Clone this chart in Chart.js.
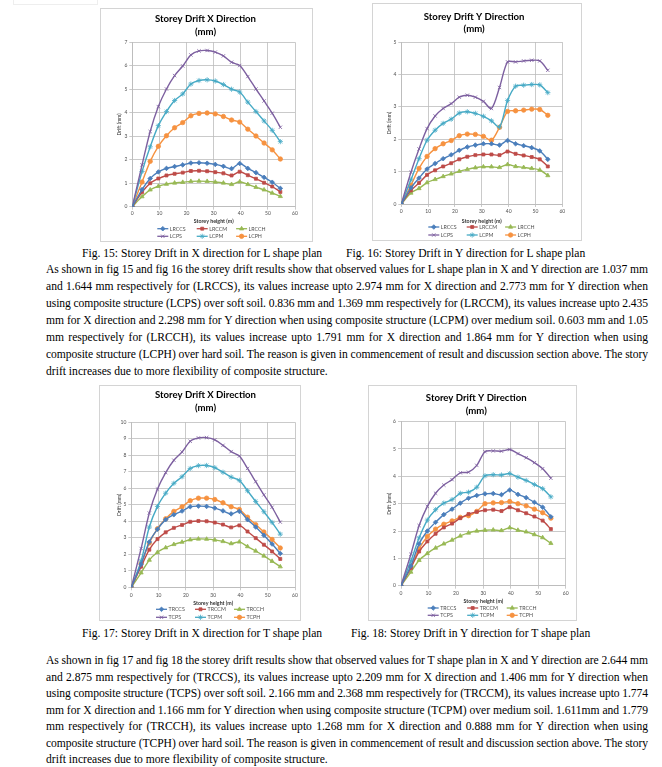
<!DOCTYPE html>
<html>
<head>
<meta charset="utf-8">
<script src="https://cdn.jsdelivr.net/npm/chart.js@4.4.0/dist/chart.umd.min.js"></script>
<style>
	body { margin: 0; width: 662px; height: 767px; position: relative; overflow: hidden; background: #fff; color: #000;
		font-family: "Liberation Serif", "Times New Roman", serif; }
	.frame { position: absolute; border: 1px solid #d4d4d4; background: #fff; }
	.frame canvas { display: block; }
	.cap { position: absolute; font-size: 11.6px; line-height: 16px; white-space: nowrap; }
	.line { position: absolute; left: 46px; width: 602px; font-size: 11.6px; line-height: 16px; white-space: nowrap; }
	.scrap { position: absolute; left: 13px; top: -2px; width: 83px; height: 5px; border: 1px solid #eee; }
</style>
</head>
<body>
<div class="scrap"></div>

<div class="frame" style="left:100px;top:8px;"><canvas id="lxChart" width="211" height="232"></canvas></div>
<div class="frame" style="left:372px;top:3px;"><canvas id="lyChart" width="208" height="236"></canvas></div>
<div class="cap" style="left:82px;top:246px;">Fig. 15: Storey Drift in X direction for L shape plan</div>
<div class="cap" style="left:346px;top:246px;">Fig. 16: Storey Drift in Y direction for L shape plan</div>

<div id="para1"></div>

<div class="frame" style="left:99px;top:385px;"><canvas id="txChart" width="200" height="234"></canvas></div>
<div class="frame" style="left:368px;top:385px;"><canvas id="tyChart" width="207" height="234"></canvas></div>
<div class="cap" style="left:82px;top:626px;">Fig. 17: Storey Drift in X direction for T shape plan</div>
<div class="cap" style="left:351px;top:626px;">Fig. 18: Storey Drift in Y direction for T shape plan</div>

<div id="para2"></div>

<script>
// storey heights (m) shared by all four charts
const storeyHeight = [0, 3.6, 6.6, 9.6, 12.6, 15.6, 18.6, 21.6, 24.6, 27.6, 30.6, 33.6, 36.6, 39.6, 42.6, 45.6, 48.6, 51.6, 54.6];

// Fig 15 - L shape, X direction (mm)
const lxRCCS = [0, 0.73, 1.2, 1.48, 1.63, 1.71, 1.78, 1.86, 1.87, 1.85, 1.8, 1.72, 1.62, 1.84, 1.63, 1.45, 1.25, 1.04, 0.78];
const lxRCCM = [0, 0.62, 1.0, 1.2, 1.33, 1.4, 1.45, 1.52, 1.53, 1.51, 1.47, 1.42, 1.33, 1.49, 1.34, 1.19, 1.02, 0.86, 0.63];
const lxRCCH = [0, 0.43, 0.72, 0.87, 0.96, 1.01, 1.04, 1.08, 1.09, 1.08, 1.05, 1.01, 0.95, 1.06, 0.95, 0.83, 0.72, 0.58, 0.44];
const lxCPS = [0, 1.78, 3.2, 4.26, 5.01, 5.58, 5.99, 6.46, 6.63, 6.65, 6.58, 6.42, 6.15, 6.01, 5.54, 5.01, 4.5, 3.98, 3.38];
const lxCPM = [0, 1.5, 2.55, 3.45, 4.05, 4.52, 4.8, 5.22, 5.37, 5.4, 5.35, 5.2, 5.0, 4.88, 4.45, 4.05, 3.65, 3.25, 2.77];
const lxCPH = [0, 1.05, 1.93, 2.57, 3.02, 3.36, 3.58, 3.87, 3.97, 3.99, 3.95, 3.84, 3.69, 3.6, 3.3, 3.01, 2.71, 2.42, 2.03];

// Fig 16 - L shape, Y direction (mm)
const lyRCCS = [0, 0.5, 0.8, 1.08, 1.25, 1.4, 1.52, 1.66, 1.76, 1.82, 1.86, 1.86, 1.82, 1.96, 1.86, 1.8, 1.74, 1.64, 1.38];
const lyRCCM = [0, 0.42, 0.65, 0.9, 1.04, 1.16, 1.26, 1.38, 1.46, 1.51, 1.53, 1.53, 1.51, 1.62, 1.55, 1.5, 1.45, 1.38, 1.16];
const lyRCCH = [0, 0.34, 0.48, 0.66, 0.76, 0.85, 0.93, 1.01, 1.07, 1.12, 1.15, 1.15, 1.13, 1.22, 1.16, 1.13, 1.1, 1.05, 0.88];
const lyCPS = [0, 0.98, 1.7, 2.33, 2.72, 2.95, 3.1, 3.3, 3.36, 3.3, 3.17, 2.95, 3.6, 4.39, 4.39, 4.42, 4.44, 4.42, 4.13];
const lyCPM = [0, 0.75, 1.4, 1.97, 2.28, 2.49, 2.62, 2.81, 2.85, 2.8, 2.71, 2.57, 2.38, 3.2, 3.64, 3.67, 3.69, 3.68, 3.44];
const lyCPH = [0, 0.58, 1.1, 1.47, 1.71, 1.86, 1.96, 2.11, 2.16, 2.15, 2.09, 1.97, 2.37, 2.86, 2.88, 2.9, 2.93, 2.92, 2.74];

// Fig 17 - T shape, X direction (mm)
const txRCCS = [0, 1.4, 2.75, 3.52, 4.1, 4.4, 4.62, 4.88, 4.92, 4.9, 4.8, 4.63, 4.45, 4.6, 4.1, 3.65, 3.15, 2.62, 2.05];
const txRCCM = [0, 1.25, 2.28, 2.92, 3.33, 3.6, 3.78, 3.97, 4.02, 4.0, 3.92, 3.8, 3.63, 3.75, 3.38, 2.98, 2.58, 2.17, 1.72];
const txRCCH = [0, 0.88, 1.65, 2.12, 2.4, 2.6, 2.74, 2.88, 2.93, 2.92, 2.87, 2.78, 2.65, 2.75, 2.47, 2.2, 1.9, 1.58, 1.25];
const txCPS = [0, 2.35, 4.5, 5.95, 6.95, 7.7, 8.2, 8.85, 9.05, 9.07, 8.93, 8.6, 8.22, 7.95, 7.2, 6.4, 5.6, 4.85, 3.95];
const txCPM = [0, 1.6, 3.65, 4.9, 5.7, 6.3, 6.7, 7.2, 7.37, 7.38, 7.25, 6.97, 6.68, 6.48, 5.85, 5.2, 4.58, 3.93, 3.22];
const txCPH = [0, 1.45, 2.68, 3.55, 4.15, 4.6, 4.88, 5.25, 5.4, 5.4, 5.32, 5.12, 4.88, 4.72, 4.25, 3.8, 3.35, 2.9, 2.38];

// Fig 18 - T shape, Y direction (mm)
const tyRCCS = [0, 0.72, 1.53, 2.0, 2.32, 2.6, 2.8, 3.02, 3.2, 3.3, 3.36, 3.37, 3.33, 3.5, 3.34, 3.22, 3.05, 2.87, 2.52];
const tyRCCM = [0, 0.65, 1.25, 1.62, 1.9, 2.13, 2.27, 2.47, 2.62, 2.7, 2.76, 2.78, 2.73, 2.87, 2.76, 2.65, 2.53, 2.38, 2.07];
const tyRCCH = [0, 0.5, 0.93, 1.18, 1.38, 1.53, 1.67, 1.82, 1.93, 2.0, 2.03, 2.04, 2.02, 2.12, 2.03, 1.97, 1.87, 1.76, 1.55];
const tyCPS = [0, 1.15, 2.2, 2.9, 3.38, 3.68, 3.88, 4.13, 4.15, 4.4, 4.9, 4.93, 4.92, 4.98, 4.83, 4.68, 4.5, 4.28, 3.93];
const tyCPM = [0, 0.9, 1.75, 2.4, 2.78, 3.02, 3.15, 3.38, 3.42, 3.6, 4.02, 4.06, 4.05, 4.1, 3.97, 3.85, 3.7, 3.55, 3.25];
const tyCPH = [0, 0.7, 1.35, 1.8, 2.07, 2.25, 2.37, 2.5, 2.56, 2.72, 3.0, 3.03, 3.04, 3.08, 3.0, 2.92, 2.8, 2.67, 2.47];

const lLabels = ["LRCCS", "LRCCM", "LRCCH", "LCPS", "LCPM", "LCPH"];
const tLabels = ["TRCCS", "TRCCM", "TRCCH", "TCPS", "TCPM", "TCPH"];

const para1Lines = [
	"As shown in fig 15 and fig 16 the storey drift results show that observed values for L shape plan in X and Y direction are 1.037 mm",
	"and 1.644 mm respectively for (LRCCS), its values increase upto 2.974 mm for X direction and 2.773 mm for Y direction when",
	"using composite structure (LCPS) over soft soil. 0.836 mm and 1.369 mm respectively for (LRCCM), its values increase upto 2.435",
	"mm for X direction and 2.298 mm for Y direction when using composite structure (LCPM) over medium soil. 0.603 mm and 1.05",
	"mm respectively for (LRCCH), its values increase upto 1.791 mm for X direction and 1.864 mm for Y direction when using",
	"composite structure (LCPH) over hard soil. The reason is given in commencement of result and discussion section above. The story",
	"drift increases due to more flexibility of composite structure.",
];
const para2Lines = [
	"As shown in fig 17 and fig 18 the storey drift results show that observed values for T shape plan in X and Y direction are 2.644 mm",
	"and 2.875 mm respectively for (TRCCS), its values increase upto 2.209 mm for X direction and 1.406 mm for Y direction when",
	"using composite structure (TCPS) over soft soil. 2.166 mm and 2.368 mm respectively for (TRCCM), its values increase upto 1.774",
	"mm for X direction and 1.166 mm for Y direction when using composite structure (TCPM) over medium soil. 1.611mm and 1.779",
	"mm respectively for (TRCCH), its values increase upto 1.268 mm for X direction and 0.888 mm for Y direction when using",
	"composite structure (TCPH) over hard soil. The reason is given in commencement of result and discussion section above. The story",
	"drift increases due to more flexibility of composite structure.",
];

// ---- paragraphs: one justified row per line of the page
function writeParagraph(id, lines, firstCenter, step) {
	const holder = document.getElementById(id);
	lines.forEach((txt, i) => {
		const div = document.createElement("div");
		div.className = "line";
		div.style.top = (firstCenter + i * step - 8) + "px";
		const span = document.createElement("span");
		span.textContent = txt;
		div.appendChild(span);
		holder.appendChild(div);
		const w = span.getBoundingClientRect().width;
		if (w > 602) {
			// slightly too long: tighten the letters a little
			div.style.letterSpacing = ((602 - w) / txt.length) + "px";
		} else if (i < lines.length - 1) {
			const gaps = txt.split(" ").length - 1;
			div.style.wordSpacing = ((602 - w) / gaps) + "px";
		}
	});
}
writeParagraph("para1", para1Lines, 270, 17);
writeParagraph("para2", para2Lines, 661, 16.5);

// ---- chart styling (Excel 2007 palette)
const seriesColors = ["#4A7EBB", "#BE4B48", "#98B954", "#7D60A0", "#46AAC5", "#F69240"];
const seriesMarkers = ["rectRot", "rect", "triangle", "crossRot", "star", "circle"];
const markerRadius = [2.3, 2.1, 2.4, 2.4, 2.6, 2.2];
const gridColor = "#bdbdbd";
const tickColor = "#505050";
const smallFont = '"Lato", "Liberation Sans", sans-serif';

// Excel-like legend: short line with marker, 3 columns x 2 rows under the x axis title
const excelLegend = {
	id: "excelLegend",
	afterDraw(chart, args, opts) {
		const { ctx, chartArea } = chart;
		chart.data.datasets.forEach((ds, i) => {
			const x = chartArea.left + opts.left + (i % 3) * opts.colW;
			const y = chartArea.bottom + opts.top + Math.floor(i / 3) * opts.rowH;
			ctx.save();
			ctx.strokeStyle = ds.borderColor;
			ctx.fillStyle = ds.borderColor;
			ctx.lineWidth = 1.3;
			ctx.beginPath();
			ctx.moveTo(x, y);
			ctx.lineTo(x + 11, y);
			ctx.stroke();
			ctx.lineWidth = 0.8;
			Chart.helpers.drawPoint(ctx, {
				pointStyle: ds.pointStyle,
				rotation: 0,
				radius: ds.pointRadius,
				borderWidth: 0.8,
			}, x + 5.5, y);
			ctx.fillStyle = tickColor;
			ctx.font = "5.3px " + smallFont;
			ctx.textBaseline = "middle";
			ctx.textAlign = "left";
			ctx.fillText(ds.label, x + 12.5, y + 0.3);
			ctx.restore();
		});
	},
};

function buildDatasets(labels, arrays) {
	return arrays.map((values, i) => ({
		label: labels[i],
		data: storeyHeight.map((h, j) => ({ x: h, y: values[j] })),
		borderColor: seriesColors[i],
		backgroundColor: seriesColors[i],
		pointBackgroundColor: seriesColors[i],
		pointBorderColor: seriesColors[i],
		pointStyle: seriesMarkers[i],
		pointRadius: markerRadius[i],
		pointBorderWidth: 0.8,
		borderWidth: 1.4,
		tension: 0.3,
	}));
}

function makeChart(id, title, labels, arrays, yMax, g) {
	return new Chart(document.getElementById(id), {
		type: "line",
		data: { datasets: buildDatasets(labels, arrays) },
		options: {
			responsive: false,
			animation: false,
			layout: { padding: { left: g.padL, right: g.padR, top: 0, bottom: g.padB } },
			plugins: {
				legend: { display: false },
				tooltip: { enabled: false },
				title: {
					display: true,
					text: [title, "(mm)"],
					color: "#000",
					font: { family: smallFont, size: 9.6, weight: "bold", lineHeight: 1.32 },
					padding: { top: g.titleTop, bottom: g.titleBottom },
				},
				excelLegend: g.legend,
			},
			scales: {
				x: {
					type: "linear",
					min: 0,
					max: 60,
					ticks: { stepSize: 10, padding: g.xTickPad, color: tickColor, font: { family: smallFont, size: 5 } },
					grid: { color: gridColor, lineWidth: 0.8, tickLength: 3 },
					border: { color: gridColor },
					title: {
						display: true,
						text: "Storey height (m)",
						color: "#333",
						font: { family: smallFont, size: 5.3, weight: "bold", lineHeight: 1.2 },
						padding: { top: 0, bottom: 0 },
					},
					afterFit(scale) {
						scale.height = g.xH;
						scale.paddingLeft = 0;
						scale.paddingRight = 0;
					},
				},
				y: {
					min: 0,
					max: yMax,
					ticks: { stepSize: 1, padding: 2, color: tickColor, font: { family: smallFont, size: 5 } },
					grid: { color: gridColor, lineWidth: 0.8, tickLength: 3 },
					border: { color: gridColor },
					title: {
						display: true,
						text: "Drift (mm)",
						color: "#333",
						font: { family: smallFont, size: 5, lineHeight: 1.2 },
						padding: { top: 0, bottom: 0 },
					},
					afterFit(scale) {
						scale.width = g.yW;
						scale.paddingTop = 0;
						scale.paddingBottom = 0;
					},
				},
			},
		},
		plugins: [excelLegend],
	});
}

makeChart("lxChart", "Storey Drift X Direction", lLabels,
	[lxRCCS, lxRCCM, lxRCCH, lxCPS, lxCPM, lxCPH], 7,
	{ padL: 15, padR: 17, padB: 17, yW: 16.3, xH: 17.3, xTickPad: 0.5, titleTop: 4, titleBottom: 3.9,
		legend: { left: 25, colW: 39.4, top: 22, rowH: 7.6 } });

makeChart("lyChart", "Storey Drift Y Direction", lLabels,
	[lyRCCS, lyRCCM, lyRCCH, lyCPS, lyCPM, lyCPH], 5,
	{ padL: 13, padR: 18.7, padB: 15.7, yW: 15.3, xH: 20.3, xTickPad: 1.7, titleTop: 6.3, titleBottom: 6.5,
		legend: { left: 27, colW: 38.4, top: 23, rowH: 8 } });

makeChart("txChart", "Storey Drift X Direction", tLabels,
	[txRCCS, txRCCM, txRCCH, txCPS, txCPM, txCPH], 10,
	{ padL: 16, padR: 5, padB: 14, yW: 15.3, xH: 18.7, xTickPad: 1.7, titleTop: 2.7, titleBottom: 8.2,
		legend: { left: 24.7, colW: 39, top: 22, rowH: 8 } });

makeChart("tyChart", "Storey Drift Y Direction", tLabels,
	[tyRCCS, tyRCCM, tyRCCH, tyCPS, tyCPM, tyCPH], 6,
	{ padL: 17.7, padR: 10.3, padB: 15.7, yW: 14.3, xH: 18.6, xTickPad: 1.6, titleTop: 6, titleBottom: 4.3,
		legend: { left: 26.7, colW: 39.5, top: 22.3, rowH: 7.3 } });
</script>
</body>
</html>
